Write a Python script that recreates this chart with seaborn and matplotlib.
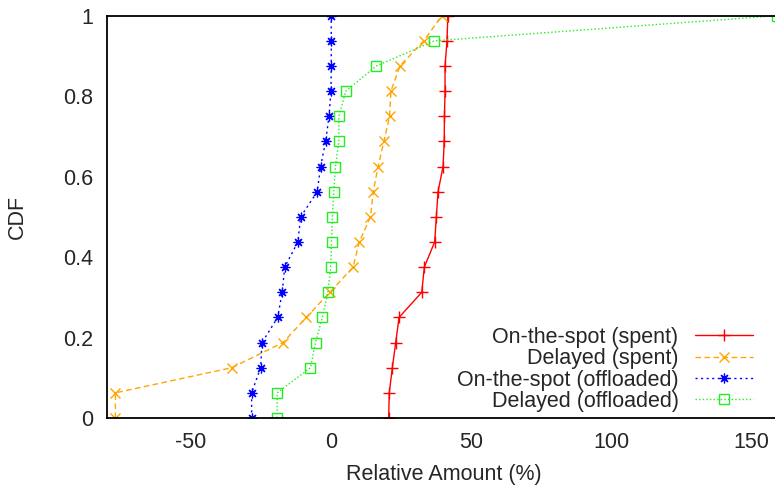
import numpy as np
import pandas as pd
import matplotlib
matplotlib.use("Agg")
import matplotlib.pyplot as plt
from matplotlib.ticker import FuncFormatter
import seaborn as sns

# CDF levels shared by every series (17 samples)
cdf = [i / 16 for i in range(17)]

spent_onspot = [20.5, 20.7, 21.8, 23.0, 24.2, 32.3, 33.2, 36.9, 37.5,
                38.1, 39.9, 40.3, 40.4, 40.6, 40.6, 41.3, 41.6]
spent_delayed = [-77.0, -77.0, -35.5, -17.2, -8.9, -0.5, 7.8, 10.0, 14.0,
                 15.0, 16.7, 18.8, 20.8, 21.3, 24.5, 33.0, 39.5]
offl_onspot = [-28.4, -28.4, -25.2, -24.7, -19.1, -17.5, -16.6, -11.9, -10.9,
               -5.0, -3.8, -2.0, -0.8, -0.1, 0.0, 0.0, 0.0]
offl_delayed = [-19.3, -19.3, -7.4, -5.6, -3.2, -1.2, -0.2, 0.1, 0.4,
                0.9, 1.5, 2.7, 2.7, 5.2, 16.1, 36.8, 159.0]

labels = ["On-the-spot (spent)", "Delayed (spent)",
          "On-the-spot (offloaded)", "Delayed (offloaded)"]
x_ticks = [-50, 0, 50, 100, 150]
y_ticks = [0, 0.2, 0.4, 0.6, 0.8, 1.0]

sns.set_style("white")
plt.rcParams["font.family"] = ["Liberation Sans", "DejaVu Sans"]
plt.rcParams["font.size"] = 15.5
plt.rcParams["axes.unicode_minus"] = False

df = pd.concat([
    pd.DataFrame({"x": vals, "cdf": cdf, "series": lab})
    for vals, lab in zip([spent_onspot, spent_delayed, offl_onspot, offl_delayed], labels)
])

fig = plt.figure(figsize=(7.75, 4.87), dpi=100)
ax = fig.add_axes([107 / 775, 69 / 487, 672.7 / 775, 402.3 / 487])

styles = {
    labels[0]: dict(color="#ff0000", linestyle="-", marker="+", markersize=9,
                    markeredgecolor="#ff0000", markeredgewidth=1.0),
    labels[1]: dict(color="#ffa500", linestyle=(0, (4, 2.5)), marker="x", markersize=7,
                    markeredgecolor="#ffa500", markeredgewidth=1.0),
    labels[2]: dict(color="#0000ff", linestyle=(0, (1.5, 2.5)), marker=(8, 2, 0),
                    markersize=7, markeredgecolor="#0000ff", markeredgewidth=0.9),
    labels[3]: dict(color="#22ee22", linestyle=(0, (1, 1.6)), marker="s", markersize=7,
                    markerfacecolor="none", markeredgecolor="#22ee22",
                    markeredgewidth=1.0),
}

for lab in labels:
    sub = df[df["series"] == lab]
    sns.lineplot(data=sub, x="x", y="cdf", ax=ax, sort=False, estimator=None,
                 label=lab, linewidth=1.0, **styles[lab])

ax.set_xlim(-80, 160)
ax.set_ylim(0, 1)
ax.set_xticks(x_ticks)
ax.set_yticks(y_ticks)
ax.yaxis.set_major_formatter(FuncFormatter(lambda v, p: f"{v:g}"))
ax.tick_params(direction="in", length=6, width=1.0, pad=10, labelsize=15.5,
               top=False, right=False)
ax.set_xlabel("Relative Amount (%)", fontsize=15.5, labelpad=8)
ax.set_ylabel("CDF", fontsize=15.5, labelpad=25)
for s in ax.spines.values():
    s.set_linewidth(1.3)
    s.set_color("black")

ax.legend(loc="lower right", bbox_to_anchor=(0.96, 0.015), frameon=False,
          markerfirst=False, handlelength=2.7, handletextpad=0.75,
          labelspacing=0.02, borderpad=0, borderaxespad=0, fontsize=15.5)

fig.savefig("out.png", dpi=100)
